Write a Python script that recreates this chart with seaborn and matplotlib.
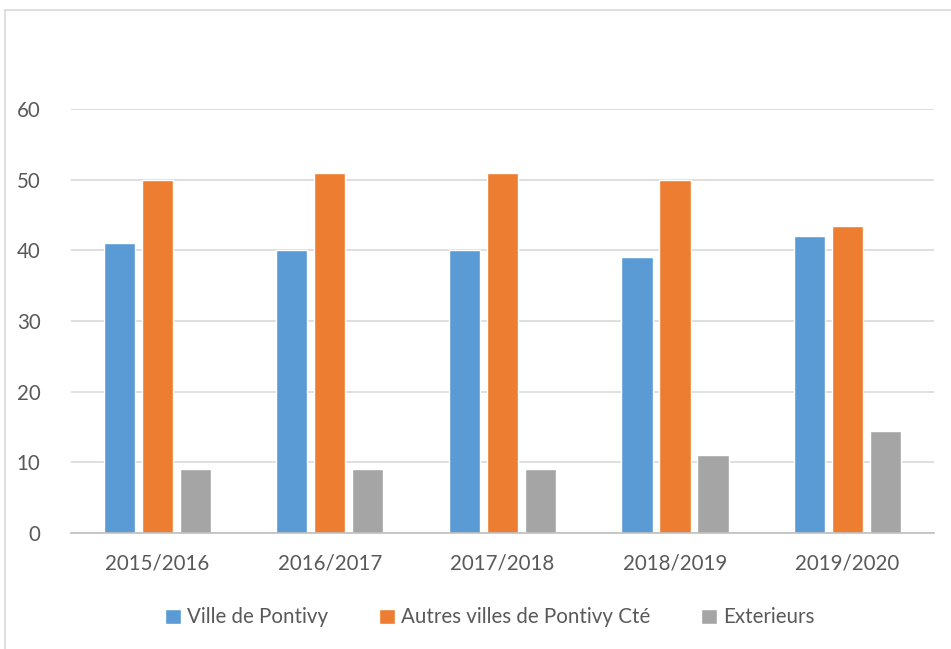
import matplotlib.pyplot as plt
import seaborn as sns
import pandas as pd
from matplotlib.patches import Rectangle

# school years and pupil origin shares
years = ["2015/2016", "2016/2017", "2017/2018", "2018/2019", "2019/2020"]
series = ["Ville de Pontivy", "Autres villes de Pontivy Cté", "Exterieurs"]
ville = [41, 40, 40, 39, 42]
autres = [50, 51, 51, 50, 43.5]
exterieurs = [9, 9, 9, 11, 14.5]
colors = ["#5B9BD5", "#ED7D31", "#A5A5A5"]

df = pd.DataFrame({
    "annee": years * 3,
    "serie": [series[0]] * 5 + [series[1]] * 5 + [series[2]] * 5,
    "valeur": ville + autres + exterieurs,
})

sns.set_style("white")
plt.rcParams["font.family"] = ["Lato", "DejaVu Sans"]
text_col = "#595959"

fig = plt.figure(figsize=(9.51, 6.49), dpi=100)
ax = fig.add_axes([0.0747, 0.1787, 0.9073, 0.6533])

sns.barplot(data=df, x="annee", y="valeur", hue="serie", palette=colors,
            width=0.66, gap=0.18, saturation=1, ax=ax, legend=True)

ax.set_ylim(0, 60)
ax.set_xlim(-0.5, 4.5)
ax.set_yticks(range(0, 61, 10))
ax.yaxis.grid(True, color="#D9D9D9", linewidth=1.2)
ax.set_axisbelow(True)
for s in ["top", "right", "left"]:
    ax.spines[s].set_visible(False)
ax.spines["bottom"].set_color("#BFBFBF")
ax.spines["bottom"].set_linewidth(1.2)
ax.tick_params(axis="both", length=0, labelsize=14.8, colors=text_col)
ax.tick_params(axis="y", pad=22)
ax.tick_params(axis="x", pad=15)
ax.set_xlabel("")
ax.set_ylabel("")

handles, labels = ax.get_legend_handles_labels()
ax.legend(handles, labels, loc="center", bbox_to_anchor=(0.515, 0.049),
          bbox_transform=fig.transFigure, ncol=3, frameon=False,
          fontsize=14.8, labelcolor=text_col, handlelength=0.75,
          handleheight=0.75, handletextpad=0.3, columnspacing=2.5)

# chart frame
fig.patches.append(Rectangle((5 / 951, -0.05), 1.1, 1 - 10 / 649 + 0.05,
                             transform=fig.transFigure, fill=False,
                             edgecolor="#D9D9D9", linewidth=1.2))

fig.savefig("out.png", dpi=100)
